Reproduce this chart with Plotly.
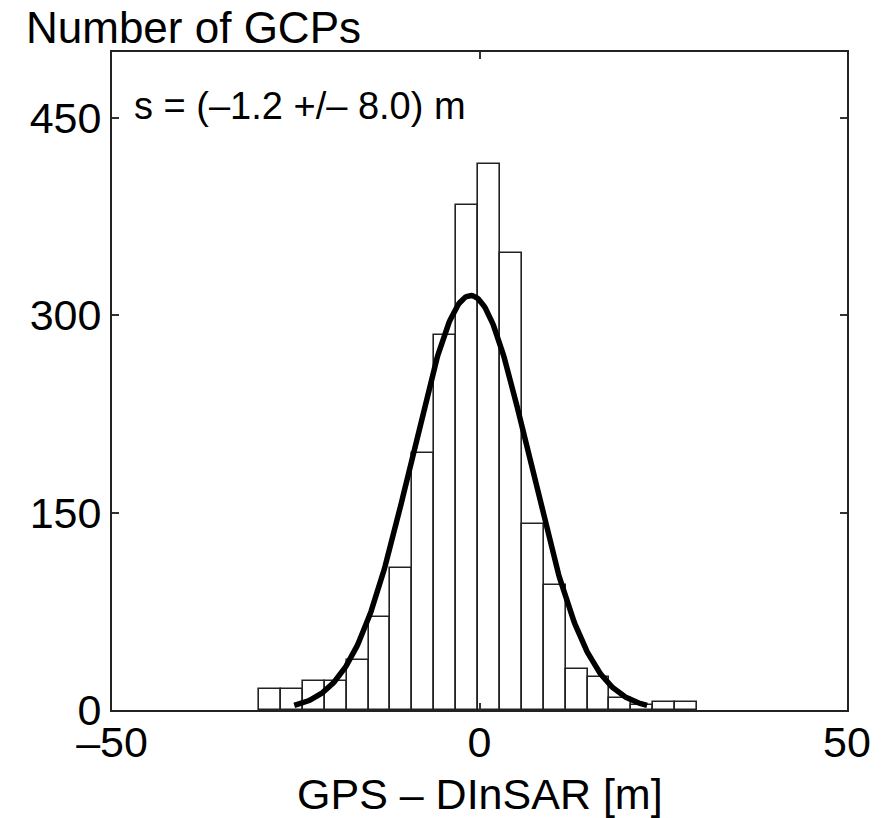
import numpy as np
import plotly.graph_objects as go

# Histogram data (20 bins)
bin_start = -30.0
bin_width = 2.98
counts = [16, 16, 22, 22, 38, 71, 108, 195, 285, 384, 415, 347, 141, 95, 31, 25, 9, 4, 6, 6]

# Gaussian fit parameters
fit_mean = -1.2
fit_sigma = 8.0
fit_peak = 315

x_ticks = [-50, 0, 50]
x_tick_text = ["–50", "0", "50"]
y_ticks = [0, 150, 300, 450]

centers = [bin_start + bin_width * (i + 0.5) for i in range(len(counts))]

gx = np.linspace(fit_mean - 3 * fit_sigma, fit_mean + 3 * fit_sigma, 300)
gy = fit_peak * np.exp(-0.5 * ((gx - fit_mean) / fit_sigma) ** 2)

FONT = "Liberation Sans, Arial, Helvetica, sans-serif"

fig = go.Figure()
fig.add_trace(go.Bar(
    x=centers, y=counts, width=bin_width,
    marker=dict(color="white", line=dict(color="#222", width=1.6)),
    showlegend=False,
))
fig.add_trace(go.Scatter(
    x=gx, y=gy, mode="lines",
    line=dict(color="black", width=5.5),
    showlegend=False,
))

fig.update_layout(
    width=888, height=818,
    margin=dict(l=112, r=41, t=52, b=108),
    plot_bgcolor="white", paper_bgcolor="white",
    font=dict(family=FONT, color="black", size=43),
    bargap=0,
    xaxis=dict(
        range=[-50, 50], tickvals=x_ticks, ticktext=x_tick_text,
        ticks="inside", ticklen=7, tickcolor="#333", tickwidth=1.5,
        showline=True, linecolor="#222", linewidth=2, mirror="ticks",
        showgrid=False, zeroline=False, automargin=False,
        tickfont=dict(size=43), ticklabelstandoff=-7,
    ),
    yaxis=dict(
        range=[0, 500], tickvals=y_ticks,
        ticks="inside", ticklen=7, tickcolor="#333", tickwidth=1.5,
        showline=True, linecolor="#222", linewidth=2, mirror="ticks",
        showgrid=False, zeroline=False, automargin=False,
        tickfont=dict(size=43),
    ),
    annotations=[
        dict(text="s = (–1.2 +/– 8.0) m", xref="paper", yref="paper",
             x=0.027, y=0.918, xanchor="left", yanchor="middle",
             showarrow=False, font=dict(size=38)),
        dict(text="Number of GCPs", xref="paper", yref="paper",
             x=-0.12, y=1.037, xanchor="left", yanchor="middle",
             showarrow=False, font=dict(size=44)),
        dict(text="GPS – DInSAR [m]", xref="paper", yref="paper",
             x=0.5, y=-0.127, xanchor="center", yanchor="middle",
             showarrow=False, font=dict(size=43)),
    ],
)

fig.write_html("out.html")
